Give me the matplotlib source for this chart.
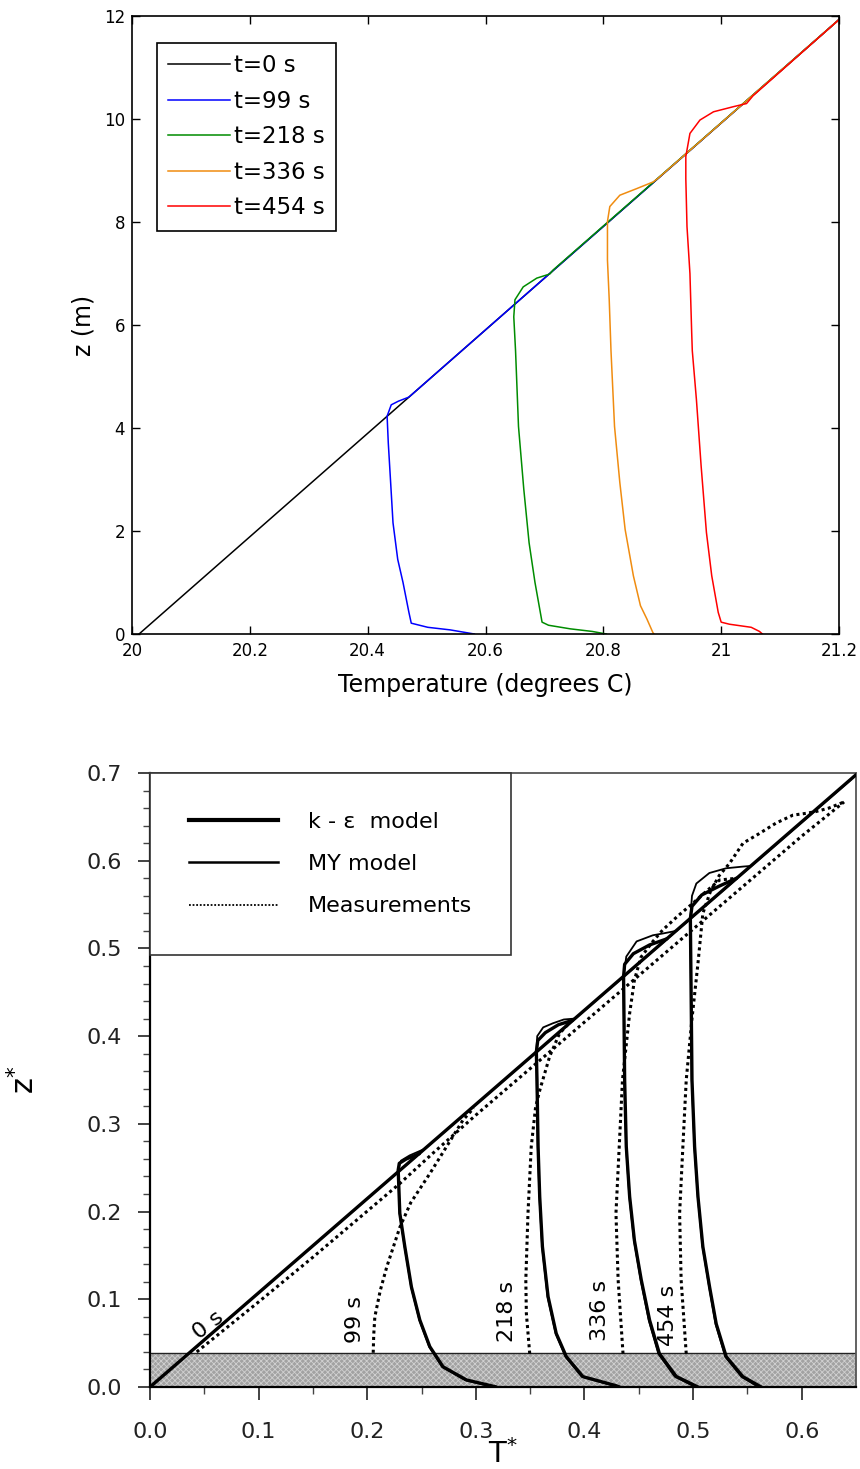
import matplotlib
matplotlib.use('Agg')
import matplotlib.pyplot as plt
from matplotlib.lines import Line2D
import numpy as np

plt.rcParams['font.family'] = ['DejaVu Sans']
plt.rcParams['hatch.linewidth'] = 0.6

# ---------------- top panel: temperature profiles (z in m, T in deg C)
t0_T = [20.012, 21.2]
t0_z = [0.0, 11.93]

t99_T = [20.581, 20.54, 20.502, 20.474, 20.470, 20.460, 20.451, 20.443, 20.439,
         20.435, 20.433, 20.440, 20.452, 20.470, 21.2]
t99_z = [0.0, 0.08, 0.13, 0.21, 0.42, 1.0, 1.45, 2.16, 2.94,
         3.71, 4.23, 4.45, 4.52, 4.60, 11.93]

t218_T = [20.805, 20.781, 20.744, 20.707, 20.696, 20.684, 20.674, 20.665, 20.656,
          20.651, 20.648, 20.650, 20.664, 20.687, 20.709, 20.715, 21.2]
t218_z = [0.0, 0.05, 0.10, 0.17, 0.23, 1.0, 1.77, 2.81, 4.03,
          5.5, 6.16, 6.49, 6.74, 6.91, 6.99, 7.07, 11.93]

t336_T = [20.886, 20.884, 20.874, 20.863, 20.851, 20.837, 20.828, 20.819, 20.813,
          20.810, 20.807, 20.807, 20.811, 20.828, 20.857, 20.885, 20.893, 21.2]
t336_z = [0.0, 0.03, 0.29, 0.55, 1.13, 2.03, 2.94, 4.03, 5.5,
          6.49, 7.26, 8.01, 8.30, 8.52, 8.65, 8.78, 8.85, 11.93]

t454_T = [21.07, 21.065, 21.051, 21.014, 21.0, 20.995, 20.984, 20.975, 20.966,
          20.958, 20.951, 20.950, 20.947, 20.942, 20.940, 20.940, 20.947, 20.964,
          20.987, 21.021, 21.043, 21.054, 21.2]
t454_z = [0.0, 0.05, 0.13, 0.19, 0.23, 0.42, 1.13, 1.97, 3.26,
          4.55, 5.5, 5.84, 7.0, 7.91, 8.84, 9.27, 9.72, 9.98,
          10.14, 10.24, 10.30, 10.45, 11.93]

top_labels = ['t=0 s', 't=99 s', 't=218 s', 't=336 s', 't=454 s']
top_colors = ['#000000', '#0000ff', '#008c00', '#f08c10', '#ff0000']
top_xticks = [20, 20.2, 20.4, 20.6, 20.8, 21, 21.2]
top_xticklabels = ['20', '20.2', '20.4', '20.6', '20.8', '21', '21.2']
top_yticks = [0, 2, 4, 6, 8, 10, 12]

# ---------------- bottom panel: non-dimensional profiles
ke_T0 = [0.0, 0.65]
ke_z0 = [0.0, 0.698]
my_T0 = [0.0, 0.645]
my_z0 = [0.0, 0.692]
ms_T0 = [0.043, 0.10, 0.15, 0.19, 0.23, 0.26, 0.30, 0.40, 0.50, 0.60, 0.639]
ms_z0 = [0.040, 0.097, 0.148, 0.190, 0.232, 0.266, 0.310, 0.416, 0.522, 0.628, 0.667]

ke_T99 = [0.319, 0.2914, 0.2698, 0.2576, 0.2484, 0.2407, 0.2346, 0.230, 0.2285, 0.2295, 0.236, 0.248]
ke_z99 = [0.0, 0.008, 0.023, 0.046, 0.0764, 0.114, 0.160, 0.198, 0.2474, 0.255, 0.260, 0.266]
my_T99 = [0.316, 0.2900, 0.2690, 0.2570, 0.2480, 0.2404, 0.2344, 0.2298, 0.2285, 0.231, 0.239, 0.252]
my_z99 = [0.0, 0.008, 0.023, 0.046, 0.0764, 0.114, 0.160, 0.198, 0.2474, 0.258, 0.264, 0.271]
ms_T99 = [0.2055, 0.206, 0.207, 0.212, 0.218, 0.230, 0.240, 0.258, 0.272, 0.288, 0.298]
ms_z99 = [0.039, 0.060, 0.080, 0.110, 0.137, 0.182, 0.210, 0.244, 0.272, 0.304, 0.318]

ke_T218 = [0.4324, 0.429, 0.3986, 0.3833, 0.374, 0.3665, 0.3613, 0.3588, 0.3573, 0.3563, 0.3557,
           0.357, 0.364, 0.376, 0.389]
ke_z218 = [0.0, 0.0015, 0.0118, 0.0346, 0.061, 0.103, 0.160, 0.217, 0.274, 0.35, 0.382,
           0.395, 0.404, 0.413, 0.418]
my_T218 = [0.430, 0.427, 0.3975, 0.3825, 0.3735, 0.3660, 0.3610, 0.3585, 0.3570, 0.3560, 0.3557,
           0.3565, 0.362, 0.371, 0.381, 0.391]
my_z218 = [0.0, 0.0015, 0.0118, 0.0346, 0.061, 0.103, 0.160, 0.217, 0.274, 0.35, 0.382,
           0.400, 0.410, 0.4147, 0.419, 0.420]
ms_T218 = [0.3496, 0.3465, 0.346, 0.348, 0.351, 0.355, 0.359, 0.368, 0.377, 0.386]
ms_z218 = [0.038, 0.084, 0.122, 0.198, 0.274, 0.319, 0.339, 0.377, 0.403, 0.415]

ke_T336 = [0.5045, 0.4845, 0.469, 0.460, 0.4523, 0.446, 0.4416, 0.4385, 0.437, 0.436,
           0.437, 0.445, 0.460, 0.476]
ke_z336 = [0.0, 0.012, 0.038, 0.076, 0.122, 0.167, 0.217, 0.274, 0.35, 0.468,
           0.482, 0.494, 0.504, 0.511]
my_T336 = [0.502, 0.4830, 0.4680, 0.4592, 0.4518, 0.4456, 0.4413, 0.4383, 0.4368, 0.436,
           0.4385, 0.448, 0.463, 0.472, 0.4845]
my_z336 = [0.0, 0.012, 0.038, 0.076, 0.122, 0.167, 0.217, 0.274, 0.35, 0.468,
           0.4907, 0.508, 0.515, 0.517, 0.520]
ms_T336 = [0.4355, 0.431, 0.429, 0.432, 0.435, 0.4416, 0.446, 0.452, 0.463, 0.472, 0.486,
           0.4998, 0.512, 0.5244, 0.540]
ms_z336 = [0.038, 0.122, 0.198, 0.274, 0.35, 0.426, 0.464, 0.490, 0.508, 0.521, 0.537,
           0.5515, 0.565, 0.578, 0.580]

ke_T454 = [0.5627, 0.5458, 0.5305, 0.5213, 0.5152, 0.509, 0.5045, 0.5014, 0.499, 0.4975,
           0.499, 0.508, 0.524, 0.540]
ke_z454 = [0.0, 0.0118, 0.0346, 0.072, 0.114, 0.160, 0.217, 0.274, 0.35, 0.534,
           0.548, 0.561, 0.571, 0.580]
my_T454 = [0.560, 0.5445, 0.5296, 0.5207, 0.5148, 0.5087, 0.5043, 0.5012, 0.4988, 0.4975,
           0.499, 0.503, 0.515, 0.5305, 0.5458, 0.553]
my_z454 = [0.0, 0.0118, 0.0346, 0.072, 0.114, 0.160, 0.217, 0.274, 0.35, 0.534,
           0.560, 0.574, 0.586, 0.5914, 0.5933, 0.594]
ms_T454 = [0.4937, 0.489, 0.4876, 0.4906, 0.4937, 0.499, 0.5045, 0.509, 0.516, 0.524, 0.5336,
           0.546, 0.561, 0.5765, 0.592, 0.604, 0.613, 0.625, 0.639]
ms_z454 = [0.038, 0.122, 0.198, 0.274, 0.35, 0.42, 0.483, 0.540, 0.565, 0.583, 0.597,
           0.620, 0.631, 0.643, 0.652, 0.654, 0.656, 0.660, 0.667]

band_top = 0.039
time_labels = ['0 s', '99 s', '218 s', '336 s', '454 s']
label_T = [0.054, 0.189, 0.329, 0.4146, 0.4768]
label_z = [0.071, 0.0775, 0.086, 0.087, 0.082]
label_rot = [38, 90, 90, 90, 90]
legend_labels = ['k - \u03b5  model', 'MY model', 'Measurements']

# ---------------- figure
fig = plt.figure(figsize=(8.6, 14.69), dpi=100)

# top axes
ax1 = fig.add_axes([132/860, 1-634/1469, 707/860, 618/1469])
for T, z, c, lab in zip([t0_T, t99_T, t218_T, t336_T, t454_T],
                        [t0_z, t99_z, t218_z, t336_z, t454_z],
                        top_colors, top_labels):
    ax1.plot(T, z, color=c, lw=1.1, label=lab)

ax1.set_xlim(20, 21.2)
ax1.set_ylim(0, 12)
ax1.set_xticks(top_xticks)
ax1.set_xticklabels(top_xticklabels)
ax1.set_yticks(top_yticks)
ax1.tick_params(direction='in', top=True, right=True, length=6, width=1,
                labelsize=12, colors='black')
ax1.tick_params(axis='x', pad=6)
ax1.tick_params(axis='y', pad=5)
for s in ax1.spines.values():
    s.set_linewidth(1.2)
ax1.set_xlabel('Temperature (degrees C)', fontsize=17, labelpad=9)
ax1.set_ylabel('z (m)', fontsize=17, labelpad=6)
leg1 = ax1.legend(loc='upper left', bbox_to_anchor=(0.035, 0.957), fontsize=16.5,
                  frameon=True, fancybox=False, framealpha=1, edgecolor='black',
                  handlelength=2.7, handletextpad=0.15, labelspacing=0.55,
                  borderpad=0.5, borderaxespad=0)
leg1.get_frame().set_linewidth(1.2)

# bottom axes
ax2 = fig.add_axes([150/860, 1-1387/1469, 706/860, 614/1469])
ax2.axhspan(0, band_top, facecolor='#a2a2a2', edgecolor='#d0d0d0', hatch='xxxxxx',
            lw=0, zorder=1)
ax2.axhline(band_top, color='#222222', lw=1.0, zorder=1.5)

dots = (0, (1, 1.1))
for T, z in zip([ke_T0, ke_T99, ke_T218, ke_T336, ke_T454],
                [ke_z0, ke_z99, ke_z218, ke_z336, ke_z454]):
    ax2.plot(T, z, color='black', lw=2.4, zorder=3, solid_capstyle='round')
for T, z in zip([my_T0, my_T99, my_T218, my_T336, my_T454],
                [my_z0, my_z99, my_z218, my_z336, my_z454]):
    ax2.plot(T, z, color='black', lw=1.3, zorder=3)
for T, z in zip([ms_T0, ms_T99, ms_T218, ms_T336, ms_T454],
                [ms_z0, ms_z99, ms_z218, ms_z336, ms_z454]):
    ax2.plot(T, z, color='black', lw=2.2, linestyle=dots, zorder=3)

for lab, x, y, r in zip(time_labels, label_T, label_z, label_rot):
    ax2.text(x, y, lab, rotation=r, ha='center', va='center', fontsize=16,
             rotation_mode='anchor', zorder=4)

ax2.set_xlim(0, 0.65)
ax2.set_ylim(0, 0.7)
ax2.set_xticks(np.arange(0, 0.61, 0.1))
ax2.set_xticklabels(['0.0', '0.1', '0.2', '0.3', '0.4', '0.5', '0.6'])
ax2.set_xticks(np.arange(0.05, 0.65, 0.1), minor=True)
ax2.set_yticks(np.arange(0, 0.71, 0.1))
ax2.set_yticklabels(['0.0', '0.1', '0.2', '0.3', '0.4', '0.5', '0.6', '0.7'])
ax2.set_yticks(np.arange(0, 0.701, 0.02), minor=True)
ax2.tick_params(which='major', direction='out', length=9, width=1.2, labelsize=16,
                colors='#222222')
ax2.tick_params(which='minor', direction='out', length=5, width=1.0, colors='#444444')
ax2.tick_params(axis='x', which='major', pad=16)
ax2.tick_params(axis='y', which='major', pad=11)
ax2.spines['left'].set_linewidth(1.6)
ax2.spines['bottom'].set_linewidth(1.6)
ax2.spines['top'].set_linewidth(1.3)
ax2.spines['right'].set_linewidth(1.3)
ax2.spines['top'].set_color('#555555')
ax2.spines['right'].set_color('#555555')

ax2.set_xlabel(r'$\mathrm{T}^{*}$', fontsize=21)
ax2.xaxis.set_label_coords(0.5, -0.085)
ax2.set_ylabel(r'$\mathrm{z}^{*}$', fontsize=22)
ax2.yaxis.set_label_coords(-0.155, 0.5)

handles = [Line2D([], [], color='black', lw=3.0),
           Line2D([], [], color='black', lw=1.8),
           Line2D([], [], color='black', lw=1.3, linestyle=(0, (1, 1)))]
leg2 = ax2.legend(handles, legend_labels, loc='upper left', bbox_to_anchor=(0, 1),
                  fontsize=16, frameon=True, fancybox=False, framealpha=1,
                  edgecolor='#333333', handlelength=4.0, handletextpad=1.35,
                  labelspacing=1.0, borderpad=1.75, borderaxespad=0)
leg2.get_frame().set_linewidth(1.2)
leg2.set_zorder(5)

plt.savefig('out.png', format='png', dpi=100)
